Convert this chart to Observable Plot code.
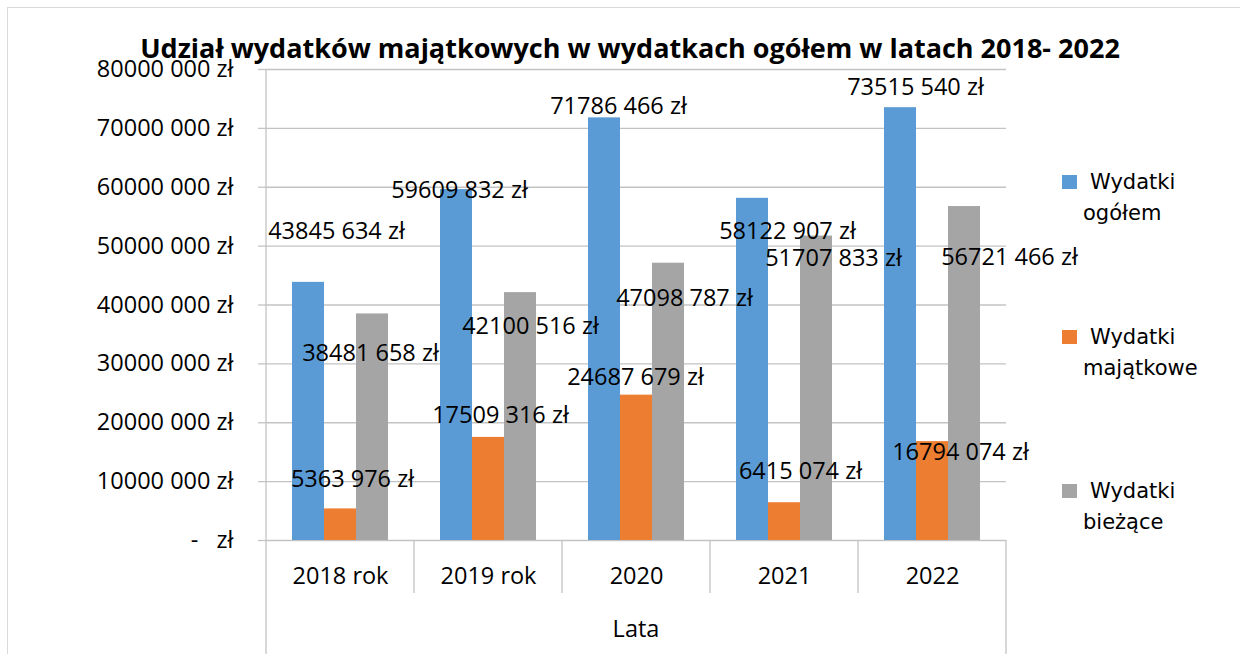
<!DOCTYPE html>
<html>
<head>
<meta charset="utf-8">
<script src="https://cdn.jsdelivr.net/npm/d3@7"></script>
<script src="https://cdn.jsdelivr.net/npm/@observablehq/plot@0.6"></script>
<style>
  html, body { margin: 0; padding: 0; background: #fff; }
  #wrap { position: relative; width: 1240px; height: 654px; overflow: hidden; }
  #border { position: absolute; left: 7px; top: 7px; width: 1240px; height: 660px;
            border-left: 1.5px solid #d9d9d9; border-top: 1.5px solid #d9d9d9; box-sizing: border-box; }
  #title { position: absolute; left: 0; width: 1260px; top: 33px; text-align: center;
           font-family: "Open Sans", sans-serif; font-weight: bold; font-size: 27px; line-height: 30px; color: #000; }
  #chart svg text { white-space: pre; }
  #chart { position: absolute; left: 0; top: 0; }
  .leg { position: absolute; font-family: "DejaVu Sans", sans-serif; font-size: 21px; color: #000; line-height: 26px; white-space: nowrap; }
  .sw { position: absolute; width: 15px; height: 14px; }
</style>
</head>
<body>
<div id="wrap">
  <div id="chart"></div>
  <div id="border"></div>
  <div id="title"></div>
  <div id="legend"></div>
</div>
<script>
// ---- data ----
const years = ["2018 rok", "2019 rok", "2020", "2021", "2022"];
const seriesNames = ["Wydatki ogółem", "Wydatki majątkowe", "Wydatki bieżące"];
const ogolem = [43845634, 59609832, 71786466, 58122907, 73515540];
const majatkowe = [5363976, 17509316, 24687679, 6415074, 16794074];
const biezace = [38481658, 42100516, 47098787, 51707833, 56721466];
const yTicks = [0, 10000000, 20000000, 30000000, 40000000, 50000000, 60000000, 70000000, 80000000];
const yTickLabels = ["-   zł", "10000 000 zł", "20000 000 zł", "30000 000 zł", "40000 000 zł",
                     "50000 000 zł", "60000 000 zł", "70000 000 zł", "80000 000 zł"];
const titleText = "Udział wydatków majątkowych w wydatkach ogółem w latach 2018- 2022";
const xTitle = "Lata";
const legendLines = [["Wydatki", "ogółem"], ["Wydatki", "majątkowe"], ["Wydatki", "bieżące"]];

// ---- style ----
const colors = ["#5B9BD5", "#ED7D31", "#A5A5A5"];
const fontFamily = "'Open Sans', sans-serif";
const fs = 23.5;
// per-label nudges (px) replicating the manually placed data labels
const labelNudges = [
  [[28, -51], [3, 1], [14, -11], [35, 33], [15, -20]],
  [[12, -29], [12, -22], [-1, -18], [16, -31], [28, 11]],
  [[-2, 40], [10, 34], [16, 35], [17, 22], [45, 51]]
];

const seriesValues = [ogolem, majatkowe, biezace];
const rows = [];
seriesNames.forEach((s, si) => years.forEach((y, yi) =>
  rows.push({year: y, series: s, value: seriesValues[si][yi], si, yi})));

const fmt = v => Math.floor(v / 1000) + " " + String(v % 1000).padStart(3, "0") + " zł";

const W = 1240, H = 654;
const mL = 265, mR = 233, mT = 69, mB = 114;

const labelMarks = rows.map(r => Plot.text([r], {
  fx: "year", x: "series", y: "value", text: d => fmt(d.value),
  dx: labelNudges[r.si][r.yi][0], dy: labelNudges[r.si][r.yi][1],
  fill: "#000", fontSize: fs
}));

const chart = Plot.plot({
  width: W, height: H,
  marginLeft: mL, marginRight: mR, marginTop: mT, marginBottom: mB,
  style: {fontFamily, fontSize: fs + "px", color: "#000", background: "transparent", overflow: "visible"},
  fx: {domain: years, padding: 0, label: null, tickSize: 0, tickPadding: 27},
  x: {domain: seriesNames, paddingInner: 0, paddingOuter: 0.75, axis: null},
  y: {domain: [0, 80000000], ticks: yTicks, tickSize: 8, tickPadding: 25, label: null,
      tickFormat: d => yTickLabels[yTicks.indexOf(d)]},
  color: {domain: seriesNames, range: colors},
  marks: [
    Plot.ruleY(yTicks, {stroke: "#c3c3c3", strokeWidth: 1.3}),
    Plot.barY(rows, {fx: "year", x: "series", y: "value", fill: "series"}),
    ...labelMarks
  ]
});
document.getElementById("chart").appendChild(chart);

// axis styling
const svg = d3.select(chart);
svg.selectAll('[aria-label="y-axis tick"] path, [aria-label="y-axis tick"] line')
  .attr("stroke", "#c3c3c3").attr("stroke-width", 1.3);

// category separators and axis lines, positioned through the fx scale
const fx = chart.scale("fx");
const yS = chart.scale("y");
const y0 = yS.apply(0), yTop = yS.apply(80000000);
const left = fx.apply(years[0]);
const right = fx.apply(years[years.length - 1]) + fx.bandwidth;
const g = svg.append("g").attr("stroke", "#c3c3c3").attr("stroke-width", 1.3);
g.append("line").attr("x1", left).attr("x2", left).attr("y1", yTop).attr("y2", H);
g.append("line").attr("x1", right).attr("x2", right).attr("y1", y0).attr("y2", H);
years.slice(1).forEach(yr => {
  const x = fx.apply(yr);
  g.append("line").attr("x1", x).attr("x2", x).attr("y1", y0).attr("y2", y0 + 53);
});
svg.append("text").attr("x", (left + right) / 2).attr("y", 628)
  .attr("text-anchor", "middle").attr("dominant-baseline", "central")
  .attr("font-size", fs).attr("fill", "#000").text(xTitle);

// title
document.getElementById("title").textContent = titleText;

// legend
const legend = document.getElementById("legend");
const legTop = [182, 337, 491];
seriesNames.forEach((s, i) => {
  const sw = document.createElement("div");
  sw.className = "sw";
  sw.style.left = "1062px"; sw.style.top = (legTop[i] - 7) + "px"; sw.style.background = colors[i];
  legend.appendChild(sw);
  const l1 = document.createElement("div");
  l1.className = "leg"; l1.style.left = "1090px"; l1.style.top = (legTop[i] - 13) + "px";
  l1.textContent = legendLines[i][0];
  legend.appendChild(l1);
  const l2 = document.createElement("div");
  l2.className = "leg"; l2.style.left = "1083px"; l2.style.top = (legTop[i] + 18) + "px";
  l2.textContent = legendLines[i][1];
  legend.appendChild(l2);
});
</script>
</body>
</html>
